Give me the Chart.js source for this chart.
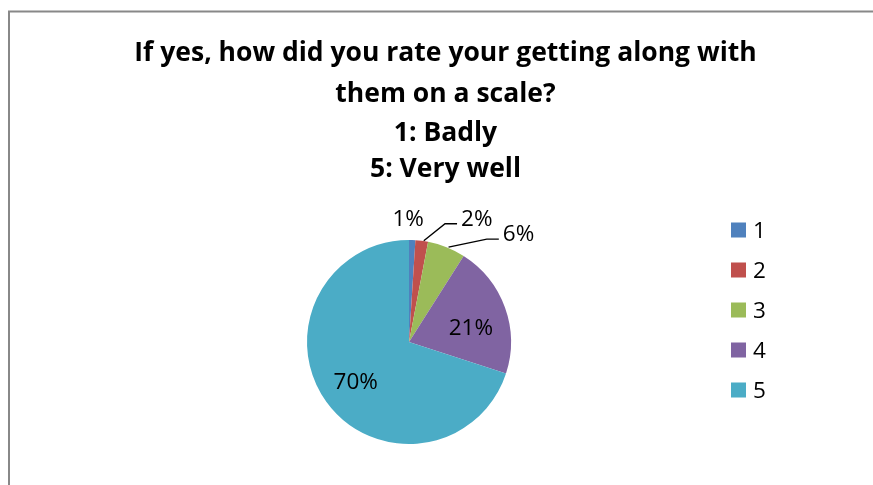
<!DOCTYPE html>
<html>
<head>
<meta charset="utf-8">
<script src="https://cdn.jsdelivr.net/npm/chart.js@4.4.0/dist/chart.umd.min.js"></script>
<style>
  html, body { margin: 0; padding: 0; background: #fff; }
  canvas { display: block; }
</style>
</head>
<body>
<canvas id="myChart" width="873" height="485"></canvas>
<script>
const titleLines = [
	'If yes, how did you rate your getting along with',
	'them on a scale?',
	'1: Badly',
	'5: Very well'
];
const categories = ['1', '2', '3', '4', '5'];
const shares = [1, 2, 6, 21, 70];
const sliceColors = ['#4F81BD', '#C0504D', '#9BBB59', '#8064A2', '#4BACC6'];

// where each percentage goes: outside the rim (offset from the rim point) or inside the slice
const labelPlacement = [
	{ side: 'out', dx: -4, dy: -22 },
	{ side: 'out', dx: 55, dy: -23, leader: true },
	{ side: 'out', dx: 72, dy: -14, leader: true },
	{ side: 'in', frac: 0.645, dx: 0, dy: 7 },
	{ side: 'in', frac: 0.645, dx: 0, dy: 0 }
];

const titleFont = 'bold 26.5px "Open Sans"';
const textSize = 22.5;
const textFont = textSize + 'px "Open Sans"';
const titleCenterX = 445.5;
const titleBaselines = [61, 102, 141, 177];

const decorations = {
	id: 'decorations',
	beforeDraw(chart) {
		const c = chart.ctx;
		c.save();
		// chart frame (left and top edges)
		c.strokeStyle = '#888888';
		c.lineWidth = 2;
		c.beginPath();
		c.moveTo(9, chart.height);
		c.lineTo(9, 11.5);
		c.lineTo(chart.width, 11.5);
		c.stroke();
		c.restore();
	},
	afterDraw(chart) {
		const c = chart.ctx;
		c.save();
		c.fillStyle = '#000';
		c.textAlign = 'center';
		c.textBaseline = 'alphabetic';
		c.font = titleFont;
		titleLines.forEach((line, i) => c.fillText(line, titleCenterX, titleBaselines[i]));

		// percentage labels
		c.font = textFont;
		const halfCap = textSize * 0.357;
		const total = shares.reduce((a, b) => a + b, 0);
		const arcs = chart.getDatasetMeta(0).data;
		arcs.forEach((arc, i) => {
			const p = arc.getProps(['x', 'y', 'startAngle', 'endAngle', 'outerRadius'], true);
			const mid = (p.startAngle + p.endAngle) / 2;
			const cos = Math.cos(mid), sin = Math.sin(mid);
			const place = labelPlacement[i];
			const text = Math.round(shares[i] / total * 100) + '%';
			let tx, ty;
			if (place.side === 'in') {
				tx = p.x + cos * p.outerRadius * place.frac + place.dx;
				ty = p.y + sin * p.outerRadius * place.frac + place.dy;
			} else {
				const rx = p.x + cos * p.outerRadius;
				const ry = p.y + sin * p.outerRadius;
				tx = rx + place.dx;
				ty = ry + place.dy;
				if (place.leader) {
					const w = c.measureText(text).width;
					const left = tx - w / 2;
					c.strokeStyle = '#000';
					c.lineWidth = 1.4;
					c.beginPath();
					c.moveTo(rx + 2, ry);
					c.lineTo(left - 16, ty + 6);
					c.lineTo(left - 4, ty + 6);
					c.stroke();
				}
			}
			c.textAlign = 'center';
			c.fillText(text, tx, ty + halfCap);
		});

		// legend
		c.textAlign = 'left';
		categories.forEach((cat, i) => {
			const cy = 230 + i * 40;
			c.fillStyle = sliceColors[i];
			c.fillRect(731, cy - 7.5, 15, 15);
			c.fillStyle = '#000';
			c.fillText(cat, 753, cy + halfCap);
		});
		c.restore();
	}
};

const ctx = document.getElementById('myChart').getContext('2d');

let ratingChart = new Chart(ctx, {
	type: 'pie',
	data: {
		labels: categories,
		datasets: [{
			data: shares,
			backgroundColor: sliceColors,
			borderWidth: 0,
			hoverOffset: 0,
			offset: 0
		}]
	},
	options: {
		responsive: false,
		devicePixelRatio: 1,
		animation: false,
		events: [],
		layout: {
			padding: { left: 307, right: 362, top: 240, bottom: 41 }
		},
		plugins: {
			legend: { display: false },
			title: { display: false },
			tooltip: { enabled: false }
		}
	},
	plugins: [decorations]
});
</script>
</body>
</html>
